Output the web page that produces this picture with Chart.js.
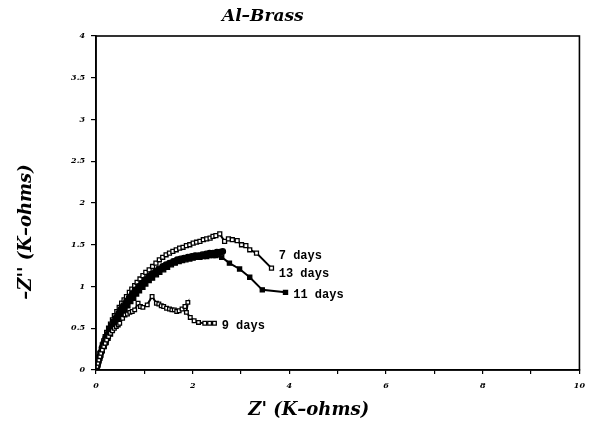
<!DOCTYPE html>
<html>
<head>
<meta charset="utf-8">
<script src="https://cdn.jsdelivr.net/npm/chart.js@4.4.1/dist/chart.umd.min.js"></script>
<style>
  html, body { margin:0; padding:0; background:#fff; }
  #wrap { width:592px; height:433px; }
</style>
</head>
<body>
<div id="wrap"><canvas id="nyquist"></canvas></div>
<script>
// Z' (K-ohms) / -Z'' (K-ohms)
var days7x  = [0, 0.02, 0.04, 0.06, 0.08, 0.11, 0.13, 0.16, 0.19, 0.22, 0.26, 0.3, 0.34, 0.38, 0.43, 0.48, 0.53, 0.58, 0.63, 0.69, 0.74, 0.8, 0.85, 0.91, 0.97, 1.03, 1.1, 1.17, 1.24, 1.31, 1.38, 1.45, 1.52, 1.59, 1.66, 1.73, 1.8, 1.87, 1.94, 2.01, 2.08, 2.15, 2.22, 2.29, 2.36, 2.42, 2.48, 2.56, 2.66, 2.74, 2.82, 2.92, 3.01, 3.1, 3.18, 3.32, 3.63];
var days7y  = [0, 0.05, 0.1, 0.15, 0.2, 0.25, 0.3, 0.35, 0.4, 0.45, 0.5, 0.55, 0.6, 0.65, 0.7, 0.75, 0.8, 0.84, 0.88, 0.93, 0.97, 1.01, 1.05, 1.09, 1.13, 1.17, 1.2, 1.24, 1.28, 1.32, 1.35, 1.38, 1.4, 1.42, 1.44, 1.46, 1.47, 1.49, 1.5, 1.52, 1.53, 1.54, 1.56, 1.57, 1.58, 1.6, 1.61, 1.63, 1.54, 1.57, 1.56, 1.55, 1.5, 1.49, 1.44, 1.4, 1.22];

var days13x = [0, 0.03, 0.05, 0.08, 0.1, 0.13, 0.16, 0.2, 0.24, 0.28, 0.32, 0.37, 0.42, 0.47, 0.52, 0.57, 0.63, 0.69, 0.75, 0.81, 0.88, 0.95, 1.02, 1.09, 1.16, 1.23, 1.3, 1.38, 1.45, 1.52, 1.6, 1.68, 1.75, 1.82, 1.9, 1.98, 2.05, 2.12, 2.2, 2.28, 2.35, 2.42, 2.5, 2.56, 2.62];
var days13y = [0, 0.05, 0.1, 0.16, 0.21, 0.27, 0.32, 0.38, 0.43, 0.48, 0.53, 0.58, 0.63, 0.68, 0.73, 0.77, 0.82, 0.87, 0.91, 0.96, 1.0, 1.04, 1.08, 1.12, 1.15, 1.18, 1.21, 1.24, 1.26, 1.28, 1.3, 1.32, 1.33, 1.34, 1.35, 1.36, 1.37, 1.37, 1.38, 1.39, 1.4, 1.4, 1.41, 1.41, 1.42];

var days11x = [0, 0.03, 0.05, 0.08, 0.1, 0.13, 0.17, 0.21, 0.25, 0.3, 0.34, 0.39, 0.44, 0.5, 0.55, 0.6, 0.66, 0.72, 0.78, 0.84, 0.9, 0.97, 1.03, 1.1, 1.17, 1.25, 1.32, 1.4, 1.48, 1.56, 1.64, 1.72, 1.79, 1.86, 1.94, 2.01, 2.08, 2.15, 2.22, 2.29, 2.35, 2.42, 2.48, 2.6, 2.76, 2.97, 3.18, 3.44, 3.92];
var days11y = [0, 0.05, 0.09, 0.14, 0.18, 0.23, 0.28, 0.33, 0.38, 0.43, 0.48, 0.53, 0.58, 0.63, 0.68, 0.72, 0.77, 0.82, 0.86, 0.91, 0.95, 0.99, 1.03, 1.07, 1.1, 1.14, 1.17, 1.2, 1.23, 1.26, 1.28, 1.3, 1.31, 1.32, 1.33, 1.34, 1.35, 1.35, 1.36, 1.36, 1.37, 1.37, 1.37, 1.35, 1.28, 1.21, 1.11, 0.96, 0.93];

var days9x  = [0, 0.02, 0.04, 0.06, 0.08, 0.1, 0.13, 0.16, 0.19, 0.22, 0.26, 0.3, 0.34, 0.38, 0.42, 0.46, 0.49, 0.55, 0.6, 0.65, 0.7, 0.75, 0.8, 0.87, 0.92, 0.97, 1.06, 1.16, 1.25, 1.3, 1.35, 1.4, 1.46, 1.52, 1.57, 1.62, 1.67, 1.72, 1.78, 1.84, 1.9, 1.87, 1.95, 2.03, 2.12, 2.25, 2.35, 2.45];
var days9y  = [0, 0.04, 0.08, 0.12, 0.16, 0.2, 0.24, 0.28, 0.32, 0.36, 0.4, 0.44, 0.47, 0.5, 0.52, 0.54, 0.56, 0.62, 0.66, 0.67, 0.69, 0.7, 0.72, 0.8, 0.76, 0.75, 0.78, 0.88, 0.8, 0.79, 0.77, 0.76, 0.74, 0.73, 0.72, 0.72, 0.7, 0.71, 0.73, 0.76, 0.81, 0.69, 0.63, 0.59, 0.57, 0.56, 0.56, 0.56];

var seriesNames = ["7 days", "13 days", "11 days", "9 days"];
var labelX = [3.78, 3.78, 4.08, 2.6];
var labelY = [1.36, 1.15, 0.9, 0.53];

var xTicks = [0, 2, 4, 6, 8, 10];

function pts(xs, ys) {
        var out = [];
        for (var i = 0; i < xs.length; i++) {
                out.push({x: xs[i], y: ys[i]});
        }
        return out;
}

var textPlugin = {
        id: "texts",
        afterDraw: function(chart) {
                var ctx = chart.ctx;
                var a = chart.chartArea;
                var sx = chart.scales.x, sy = chart.scales.y;

                ctx.save();
                // box around plot
                ctx.strokeStyle = "#000";
                ctx.lineWidth = 1.6;
                ctx.strokeRect(a.left, a.top, a.right - a.left, a.bottom - a.top);

                // series labels
                ctx.fillStyle = "#000";
                ctx.font = "bold 12px 'Liberation Mono'";
                ctx.textAlign = "left";
                ctx.textBaseline = "middle";
                for (var i = 0; i < seriesNames.length; i++) {
                        ctx.fillText(seriesNames[i], sx.getPixelForValue(labelX[i]), sy.getPixelForValue(labelY[i]));
                }

                // title
                ctx.font = "bold italic 17px 'DejaVu Serif'";
                ctx.textAlign = "center";
                ctx.fillText("Al\u2013Brass", a.left + (a.right - a.left) * 0.345, 17);

                // axis titles
                ctx.font = "bold italic 18px 'DejaVu Serif'";
                ctx.fillText("Z' (K\u2013ohms)", a.left + (a.right - a.left) * 0.44, 410);

                ctx.translate(26, 232);
                ctx.rotate(-Math.PI / 2);
                ctx.fillText("\u2013Z'' (K\u2013ohms)", 0, 0);
                ctx.restore();
        }
};

function ds(label, xs, ys, style, fill, r) {
        return {
                label: label,
                data: pts(xs, ys),
                showLine: true,
                borderColor: "#000",
                borderWidth: 2,
                pointStyle: style,
                pointRadius: r,
                pointBorderWidth: 1.3,
                pointBorderColor: "#000",
                pointBackgroundColor: fill,
                tension: 0
        };
}

var chart = new Chart(document.getElementById("nyquist"), {
        type: "scatter",
        data: {
                datasets: [
                        ds(seriesNames[3], days9x, days9y, "rect", "#fff", 2.6),
                        ds(seriesNames[2], days11x, days11y, "rect", "#000", 2.9),
                        ds(seriesNames[1], days13x, days13y, "circle", "#000", 2.8),
                        ds(seriesNames[0], days7x, days7y, "rect", "#fff", 2.8)
                ]
        },
        options: {
                responsive: true,
                maintainAspectRatio: false,
                animation: false,
                layout: { padding: { left: 0, right: 11, top: 36, bottom: 0 } },
                plugins: {
                        legend: { display: false },
                        tooltip: { enabled: false }
                },
                scales: {
                        x: {
                                type: "linear",
                                min: 0,
                                max: 10,
                                afterFit: function(s) { s.height = 63; },
                                afterBuildTicks: function(s) {
                                        s.ticks = [];
                                        for (var v = 0; v <= 10; v++) s.ticks.push({value: v});
                                },
                                border: { display: true, color: "#000", width: 1.6 },
                                grid: { drawOnChartArea: false, drawTicks: true, tickLength: 4, color: "#000", lineWidth: 1.2 },
                                ticks: {
                                        color: "#000",
                                        padding: 7,
                                        maxRotation: 0,
                                        autoSkip: false,
                                        font: { family: "'DejaVu Serif'", size: 8, style: "italic", weight: "bold" },
                                        callback: function(v) { return xTicks.indexOf(v) >= 0 ? String(v) : ""; }
                                }
                        },
                        y: {
                                type: "linear",
                                min: 0,
                                max: 4,
                                afterFit: function(s) { s.width = 96; },
                                border: { display: true, color: "#000", width: 1.6 },
                                grid: { drawOnChartArea: false, drawTicks: true, tickLength: 5, color: "#000", lineWidth: 1.2 },
                                ticks: {
                                        stepSize: 0.5,
                                        color: "#000",
                                        padding: 6,
                                        font: { family: "'DejaVu Serif'", size: 8, style: "italic", weight: "bold" },
                                        callback: function(v) { return String(v); }
                                }
                        }
                }
        },
        plugins: [textPlugin]
});
</script>
</body>
</html>
